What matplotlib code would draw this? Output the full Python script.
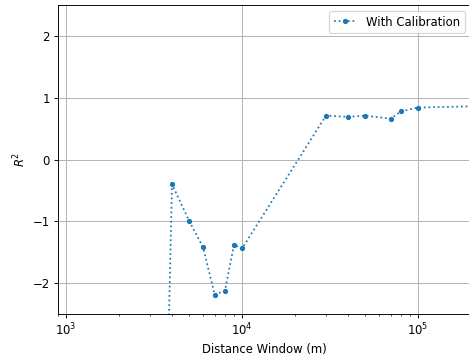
import numpy as np
import matplotlib
matplotlib.use('Agg')
import matplotlib.pyplot as plt

# distance windows (m) and R^2 with calibration
distance_window = [3000, 4000, 5000, 6000, 7000, 8000, 9000, 10000,
                   30000, 40000, 50000, 70000, 80000, 100000, 200000]
r2_calibrated = [-16.0, -0.40, -0.99, -1.42, -2.19, -2.12, -1.38, -1.44,
                 0.71, 0.69, 0.71, 0.66, 0.78, 0.84, 0.86]

DPI = 84
fig = plt.figure(figsize=(469 / DPI, 356 / DPI), dpi=DPI)
ax = fig.add_axes([58 / 469, 42 / 356, (471 - 58) / 469, 309 / 356])

ax.plot(distance_window, r2_calibrated, ':', marker='o', markersize=3.5,
        color='#1f77b4', label='With Calibration')
ax.set_xscale('log')
ax.set_xlim(900, 2e5)
ax.set_ylim(-2.5, 2.5)
ax.set_yticks([-2, -1, 0, 1, 2])
ax.set_xlabel('Distance Window (m)')
ax.set_ylabel('$R^2$')
ax.grid(True, which='major')
ax.legend(loc='upper right')

fig.savefig('out.png', dpi=DPI)
